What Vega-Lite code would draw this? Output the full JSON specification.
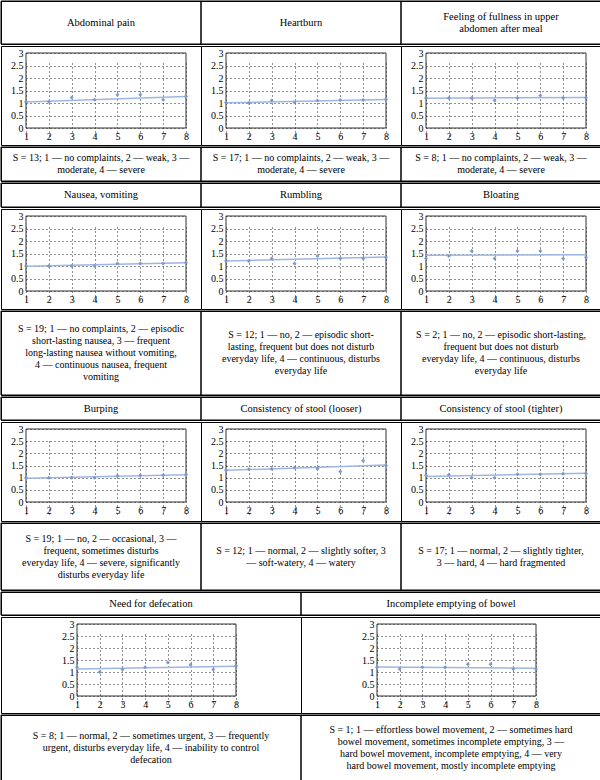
{
  "$schema": "https://vega.github.io/schema/vega-lite/v6.json",
  "padding": 0,
  "spacing": 0,
  "config": {
    "font": "Liberation Serif",
    "view": {"stroke": "#000", "strokeWidth": 1},
    "text": {"font": "Liberation Serif", "fontSize": 10, "color": "#000", "lineBreak": "\n", "lineHeight": 12},
    "axis": {"labelFont": "Liberation Serif", "labelFontSize": 10, "labelColor": "#000", "ticks": false, "tickSize": 0, "domain": false, "labelOverlap": false, "labelFlush": false, "tickCount": 20, "labelPadding": 3, "grid": true, "gridDash": [1, 3], "gridColor": "#222"}
  },
  "datasets": {
    "panels": [
      {"r": 1, "c": 1, "title": "Abdominal pain", "caption": "S = 13; 1 — no complaints, 2 — weak, 3 —\nmoderate, 4 — severe"},
      {"r": 1, "c": 2, "title": "Heartburn", "caption": "S = 17; 1 — no complaints, 2 — weak, 3 —\nmoderate, 4 — severe"},
      {"r": 1, "c": 3, "title": "Feeling of fullness in upper\nabdomen after meal", "caption": "S = 8; 1 — no complaints, 2 — weak, 3 —\nmoderate, 4 — severe"},
      {"r": 2, "c": 1, "title": "Nausea, vomiting", "caption": "S = 19; 1 — no complaints, 2 — episodic\nshort-lasting nausea, 3 — frequent\nlong-lasting nausea without vomiting,\n4 — continuous nausea, frequent\nvomiting"},
      {"r": 2, "c": 2, "title": "Rumbling", "caption": "S = 12; 1 — no, 2 — episodic short-\nlasting, frequent but does not disturb\neveryday life, 4 — continuous, disturbs\neveryday life"},
      {"r": 2, "c": 3, "title": "Bloating", "caption": "S = 2; 1 — no, 2 — episodic short-lasting,\nfrequent but does not disturb\neveryday life, 4 — continuous, disturbs\neveryday life"},
      {"r": 3, "c": 1, "title": "Burping", "caption": "S = 19; 1 — no, 2 — occasional, 3 —\nfrequent, sometimes disturbs\neveryday life, 4 — severe, significantly\ndisturbs everyday life"},
      {"r": 3, "c": 2, "title": "Consistency of stool (looser)", "caption": "S = 12; 1 — normal, 2 — slightly softer, 3\n— soft-watery, 4 — watery"},
      {"r": 3, "c": 3, "title": "Consistency of stool (tighter)", "caption": "S = 17; 1 — normal, 2 — slightly tighter,\n3 — hard, 4 — hard fragmented"},
      {"r": 4, "c": 1, "title": "Need for defecation", "caption": "S = 8; 1 — normal, 2 — sometimes urgent, 3 — frequently\nurgent, disturbs everyday life, 4 — inability to control\ndefecation"},
      {"r": 4, "c": 2, "title": "Incomplete emptying of bowel", "caption": "S = 1; 1 — effortless bowel movement, 2 — sometimes hard\nbowel movement, sometimes incomplete emptying, 3 —\nhard bowel movement, incomplete emptying, 4 — very\nhard bowel movement, mostly incomplete emptying"}
    ],
    "points": [
      {"r":1,"c":1,"x":1,"y":1.05,"t":1.04},{"r":1,"c":1,"x":2,"y":1.05},{"r":1,"c":1,"x":3,"y":1.22},{"r":1,"c":1,"x":4,"y":1.13},{"r":1,"c":1,"x":5,"y":1.33},{"r":1,"c":1,"x":6,"y":1.33},{"r":1,"c":1,"x":7,"y":1.13},{"r":1,"c":1,"x":8,"y":1.27,"t":1.26},
      {"r":1,"c":2,"x":1,"y":1.02,"t":1.01},{"r":1,"c":2,"x":2,"y":1.0},{"r":1,"c":2,"x":3,"y":1.1},{"r":1,"c":2,"x":4,"y":1.02},{"r":1,"c":2,"x":5,"y":1.1},{"r":1,"c":2,"x":6,"y":1.12},{"r":1,"c":2,"x":7,"y":1.12},{"r":1,"c":2,"x":8,"y":1.14,"t":1.14},
      {"r":1,"c":3,"x":1,"y":1.2,"t":1.19},{"r":1,"c":3,"x":2,"y":1.2},{"r":1,"c":3,"x":3,"y":1.2},{"r":1,"c":3,"x":4,"y":1.1},{"r":1,"c":3,"x":5,"y":1.2},{"r":1,"c":3,"x":6,"y":1.3},{"r":1,"c":3,"x":7,"y":1.2},{"r":1,"c":3,"x":8,"y":1.21,"t":1.22},
      {"r":2,"c":1,"x":1,"y":1.0,"t":0.99},{"r":2,"c":1,"x":2,"y":1.0},{"r":2,"c":1,"x":3,"y":1.0},{"r":2,"c":1,"x":4,"y":1.0},{"r":2,"c":1,"x":5,"y":1.1},{"r":2,"c":1,"x":6,"y":1.1},{"r":2,"c":1,"x":7,"y":1.1},{"r":2,"c":1,"x":8,"y":1.13,"t":1.13},
      {"r":2,"c":2,"x":1,"y":1.2,"t":1.2},{"r":2,"c":2,"x":2,"y":1.2},{"r":2,"c":2,"x":3,"y":1.3},{"r":2,"c":2,"x":4,"y":1.1},{"r":2,"c":2,"x":5,"y":1.4},{"r":2,"c":2,"x":6,"y":1.3},{"r":2,"c":2,"x":7,"y":1.3},{"r":2,"c":2,"x":8,"y":1.35,"t":1.36},
      {"r":2,"c":3,"x":1,"y":1.3,"t":1.43},{"r":2,"c":3,"x":2,"y":1.4},{"r":2,"c":3,"x":3,"y":1.6},{"r":2,"c":3,"x":4,"y":1.3},{"r":2,"c":3,"x":5,"y":1.6},{"r":2,"c":3,"x":6,"y":1.6},{"r":2,"c":3,"x":7,"y":1.3},{"r":2,"c":3,"x":8,"y":1.35,"t":1.45},
      {"r":3,"c":1,"x":1,"y":1.0,"t":0.98},{"r":3,"c":1,"x":2,"y":1.0},{"r":3,"c":1,"x":3,"y":1.0},{"r":3,"c":1,"x":4,"y":1.0},{"r":3,"c":1,"x":5,"y":1.08},{"r":3,"c":1,"x":6,"y":1.1},{"r":3,"c":1,"x":7,"y":1.1},{"r":3,"c":1,"x":8,"y":1.12,"t":1.12},
      {"r":3,"c":2,"x":1,"y":1.3,"t":1.3},{"r":3,"c":2,"x":2,"y":1.35},{"r":3,"c":2,"x":3,"y":1.37},{"r":3,"c":2,"x":4,"y":1.42},{"r":3,"c":2,"x":5,"y":1.37},{"r":3,"c":2,"x":6,"y":1.25},{"r":3,"c":2,"x":7,"y":1.7},{"r":3,"c":2,"x":8,"y":1.5,"t":1.52},
      {"r":3,"c":3,"x":1,"y":1.1,"t":1.05},{"r":3,"c":3,"x":2,"y":1.12},{"r":3,"c":3,"x":3,"y":1.0},{"r":3,"c":3,"x":4,"y":1.0},{"r":3,"c":3,"x":5,"y":1.14},{"r":3,"c":3,"x":6,"y":1.14},{"r":3,"c":3,"x":7,"y":1.16},{"r":3,"c":3,"x":8,"y":1.17,"t":1.18},
      {"r":4,"c":1,"x":1,"y":1.2,"t":1.12},{"r":4,"c":1,"x":2,"y":1.0},{"r":4,"c":1,"x":3,"y":1.1},{"r":4,"c":1,"x":4,"y":1.2},{"r":4,"c":1,"x":5,"y":1.4},{"r":4,"c":1,"x":6,"y":1.3},{"r":4,"c":1,"x":7,"y":1.1},{"r":4,"c":1,"x":8,"y":1.25,"t":1.24},
      {"r":4,"c":2,"x":1,"y":1.2,"t":1.21},{"r":4,"c":2,"x":2,"y":1.12},{"r":4,"c":2,"x":3,"y":1.2},{"r":4,"c":2,"x":4,"y":1.2},{"r":4,"c":2,"x":5,"y":1.32},{"r":4,"c":2,"x":6,"y":1.32},{"r":4,"c":2,"x":7,"y":1.12},{"r":4,"c":2,"x":8,"y":1.13,"t":1.16}
    ]
  },
  "vconcat": [
    {
      "width": 600, "height": 43,
      "data": {"name": "panels"},
      "transform": [{"filter": "datum.r == 1"}],
      "layer": [
        {"mark": {"type": "rect", "fill": "transparent", "stroke": "#000", "strokeWidth": 1},
         "encoding": {"x": {"field": "c", "type": "ordinal", "axis": null, "scale": {"paddingInner": 0, "paddingOuter": 0}}}},
        {"mark": {"type": "text", "align": "center", "baseline": "middle", "fontSize": 10.5, "dy": {"expr": "-(length(split(datum.title, '\\n')) - 1) * 6"}},
         "encoding": {"x": {"field": "c", "type": "ordinal", "axis": null}, "text": {"field": "title"}}}
      ]
    },
    {
      "spacing": 0, "bounds": "flush",
      "hconcat": [
        {"width": 200, "height": 99, "data": {"name": "points"}, "transform": [{"filter": "datum.r == 1 && datum.c == 1"}],
         "encoding": {
           "x": {"field": "x", "type": "quantitative", "title": null, "scale": {"domain": [1, 8], "range": [25, 185], "nice": false, "zero": false}, "axis": {"offset": -17, "values": [1,2,3,4,5,6,7,8], "format": "d"}},
           "y": {"field": "y", "type": "quantitative", "title": null, "scale": {"domain": [0, 3], "range": [82, 7], "nice": false, "zero": false}, "axis": {"offset": -25, "values": [0,0.5,1,1.5,2,2.5,3], "format": "~g"}}},
         "layer": [
           {"transform": [{"filter": "datum.x == 1"}], "mark": {"type": "rect", "fill": "transparent", "stroke": "#333", "strokeWidth": 1}, "encoding": {"x": {"datum": 1}, "x2": {"datum": 8}, "y": {"datum": 0}, "y2": {"datum": 3}}},
           {"transform": [{"filter": "isValid(datum.t)"}], "mark": {"type": "line", "color": "#9db6e3", "strokeWidth": 1.5}, "encoding": {"y": {"field": "t", "type": "quantitative", "title": null}}},
           {"mark": {"type": "point", "shape": "diamond", "filled": true, "size": 16, "color": "#7b98cf", "opacity": 1}}
         ]},
        {"width": 200, "height": 99, "data": {"name": "points"}, "transform": [{"filter": "datum.r == 1 && datum.c == 2"}],
         "encoding": {
           "x": {"field": "x", "type": "quantitative", "title": null, "scale": {"domain": [1, 8], "range": [25, 185], "nice": false, "zero": false}, "axis": {"offset": -17, "values": [1,2,3,4,5,6,7,8], "format": "d"}},
           "y": {"field": "y", "type": "quantitative", "title": null, "scale": {"domain": [0, 3], "range": [82, 7], "nice": false, "zero": false}, "axis": {"offset": -25, "values": [0,0.5,1,1.5,2,2.5,3], "format": "~g"}}},
         "layer": [
           {"transform": [{"filter": "datum.x == 1"}], "mark": {"type": "rect", "fill": "transparent", "stroke": "#333", "strokeWidth": 1}, "encoding": {"x": {"datum": 1}, "x2": {"datum": 8}, "y": {"datum": 0}, "y2": {"datum": 3}}},
           {"transform": [{"filter": "isValid(datum.t)"}], "mark": {"type": "line", "color": "#9db6e3", "strokeWidth": 1.5}, "encoding": {"y": {"field": "t", "type": "quantitative", "title": null}}},
           {"mark": {"type": "point", "shape": "diamond", "filled": true, "size": 16, "color": "#7b98cf", "opacity": 1}}
         ]},
        {"width": 200, "height": 99, "data": {"name": "points"}, "transform": [{"filter": "datum.r == 1 && datum.c == 3"}],
         "encoding": {
           "x": {"field": "x", "type": "quantitative", "title": null, "scale": {"domain": [1, 8], "range": [25, 185], "nice": false, "zero": false}, "axis": {"offset": -17, "values": [1,2,3,4,5,6,7,8], "format": "d"}},
           "y": {"field": "y", "type": "quantitative", "title": null, "scale": {"domain": [0, 3], "range": [82, 7], "nice": false, "zero": false}, "axis": {"offset": -25, "values": [0,0.5,1,1.5,2,2.5,3], "format": "~g"}}},
         "layer": [
           {"transform": [{"filter": "datum.x == 1"}], "mark": {"type": "rect", "fill": "transparent", "stroke": "#333", "strokeWidth": 1}, "encoding": {"x": {"datum": 1}, "x2": {"datum": 8}, "y": {"datum": 0}, "y2": {"datum": 3}}},
           {"transform": [{"filter": "isValid(datum.t)"}], "mark": {"type": "line", "color": "#9db6e3", "strokeWidth": 1.5}, "encoding": {"y": {"field": "t", "type": "quantitative", "title": null}}},
           {"mark": {"type": "point", "shape": "diamond", "filled": true, "size": 16, "color": "#7b98cf", "opacity": 1}}
         ]}
      ]
    },
    {
      "width": 600, "height": 34,
      "data": {"name": "panels"},
      "transform": [{"filter": "datum.r == 1"}],
      "layer": [
        {"mark": {"type": "rect", "fill": "transparent", "stroke": "#000", "strokeWidth": 1},
         "encoding": {"x": {"field": "c", "type": "ordinal", "axis": null, "scale": {"paddingInner": 0, "paddingOuter": 0}}}},
        {"mark": {"type": "text", "align": "center", "baseline": "middle", "dy": {"expr": "-(length(split(datum.caption, '\\n')) - 1) * 6"}},
         "encoding": {"x": {"field": "c", "type": "ordinal", "axis": null}, "text": {"field": "caption"}}}
      ]
    },
    {
      "width": 600, "height": 24,
      "data": {"name": "panels"},
      "transform": [{"filter": "datum.r == 2"}],
      "layer": [
        {"mark": {"type": "rect", "fill": "transparent", "stroke": "#000", "strokeWidth": 1},
         "encoding": {"x": {"field": "c", "type": "ordinal", "axis": null, "scale": {"paddingInner": 0, "paddingOuter": 0}}}},
        {"mark": {"type": "text", "align": "center", "baseline": "middle", "fontSize": 10.5},
         "encoding": {"x": {"field": "c", "type": "ordinal", "axis": null}, "text": {"field": "title"}}}
      ]
    },
    {
      "spacing": 0, "bounds": "flush",
      "hconcat": [
        {"width": 200, "height": 100, "data": {"name": "points"}, "transform": [{"filter": "datum.r == 2 && datum.c == 1"}],
         "encoding": {
           "x": {"field": "x", "type": "quantitative", "title": null, "scale": {"domain": [1, 8], "range": [25, 185], "nice": false, "zero": false}, "axis": {"offset": -18, "values": [1,2,3,4,5,6,7,8], "format": "d"}},
           "y": {"field": "y", "type": "quantitative", "title": null, "scale": {"domain": [0, 3], "range": [82, 7], "nice": false, "zero": false}, "axis": {"offset": -25, "values": [0,0.5,1,1.5,2,2.5,3], "format": "~g"}}},
         "layer": [
           {"transform": [{"filter": "datum.x == 1"}], "mark": {"type": "rect", "fill": "transparent", "stroke": "#333", "strokeWidth": 1}, "encoding": {"x": {"datum": 1}, "x2": {"datum": 8}, "y": {"datum": 0}, "y2": {"datum": 3}}},
           {"transform": [{"filter": "isValid(datum.t)"}], "mark": {"type": "line", "color": "#9db6e3", "strokeWidth": 1.5}, "encoding": {"y": {"field": "t", "type": "quantitative", "title": null}}},
           {"mark": {"type": "point", "shape": "diamond", "filled": true, "size": 16, "color": "#7b98cf", "opacity": 1}}
         ]},
        {"width": 200, "height": 100, "data": {"name": "points"}, "transform": [{"filter": "datum.r == 2 && datum.c == 2"}],
         "encoding": {
           "x": {"field": "x", "type": "quantitative", "title": null, "scale": {"domain": [1, 8], "range": [25, 185], "nice": false, "zero": false}, "axis": {"offset": -18, "values": [1,2,3,4,5,6,7,8], "format": "d"}},
           "y": {"field": "y", "type": "quantitative", "title": null, "scale": {"domain": [0, 3], "range": [82, 7], "nice": false, "zero": false}, "axis": {"offset": -25, "values": [0,0.5,1,1.5,2,2.5,3], "format": "~g"}}},
         "layer": [
           {"transform": [{"filter": "datum.x == 1"}], "mark": {"type": "rect", "fill": "transparent", "stroke": "#333", "strokeWidth": 1}, "encoding": {"x": {"datum": 1}, "x2": {"datum": 8}, "y": {"datum": 0}, "y2": {"datum": 3}}},
           {"transform": [{"filter": "isValid(datum.t)"}], "mark": {"type": "line", "color": "#9db6e3", "strokeWidth": 1.5}, "encoding": {"y": {"field": "t", "type": "quantitative", "title": null}}},
           {"mark": {"type": "point", "shape": "diamond", "filled": true, "size": 16, "color": "#7b98cf", "opacity": 1}}
         ]},
        {"width": 200, "height": 100, "data": {"name": "points"}, "transform": [{"filter": "datum.r == 2 && datum.c == 3"}],
         "encoding": {
           "x": {"field": "x", "type": "quantitative", "title": null, "scale": {"domain": [1, 8], "range": [25, 185], "nice": false, "zero": false}, "axis": {"offset": -18, "values": [1,2,3,4,5,6,7,8], "format": "d"}},
           "y": {"field": "y", "type": "quantitative", "title": null, "scale": {"domain": [0, 3], "range": [82, 7], "nice": false, "zero": false}, "axis": {"offset": -25, "values": [0,0.5,1,1.5,2,2.5,3], "format": "~g"}}},
         "layer": [
           {"transform": [{"filter": "datum.x == 1"}], "mark": {"type": "rect", "fill": "transparent", "stroke": "#333", "strokeWidth": 1}, "encoding": {"x": {"datum": 1}, "x2": {"datum": 8}, "y": {"datum": 0}, "y2": {"datum": 3}}},
           {"transform": [{"filter": "isValid(datum.t)"}], "mark": {"type": "line", "color": "#9db6e3", "strokeWidth": 1.5}, "encoding": {"y": {"field": "t", "type": "quantitative", "title": null}}},
           {"mark": {"type": "point", "shape": "diamond", "filled": true, "size": 16, "color": "#7b98cf", "opacity": 1}}
         ]}
      ]
    },
    {
      "width": 600, "height": 84,
      "data": {"name": "panels"},
      "transform": [{"filter": "datum.r == 2"}],
      "layer": [
        {"mark": {"type": "rect", "fill": "transparent", "stroke": "#000", "strokeWidth": 1},
         "encoding": {"x": {"field": "c", "type": "ordinal", "axis": null, "scale": {"paddingInner": 0, "paddingOuter": 0}}}},
        {"mark": {"type": "text", "align": "center", "baseline": "middle", "dy": {"expr": "-(length(split(datum.caption, '\\n')) - 1) * 6"}},
         "encoding": {"x": {"field": "c", "type": "ordinal", "axis": null}, "text": {"field": "caption"}}}
      ]
    },
    {
      "width": 600, "height": 23,
      "data": {"name": "panels"},
      "transform": [{"filter": "datum.r == 3"}],
      "layer": [
        {"mark": {"type": "rect", "fill": "transparent", "stroke": "#000", "strokeWidth": 1},
         "encoding": {"x": {"field": "c", "type": "ordinal", "axis": null, "scale": {"paddingInner": 0, "paddingOuter": 0}}}},
        {"mark": {"type": "text", "align": "center", "baseline": "middle", "fontSize": 10.5},
         "encoding": {"x": {"field": "c", "type": "ordinal", "axis": null}, "text": {"field": "title"}}}
      ]
    },
    {
      "spacing": 0, "bounds": "flush",
      "hconcat": [
        {"width": 200, "height": 99, "data": {"name": "points"}, "transform": [{"filter": "datum.r == 3 && datum.c == 1"}],
         "encoding": {
           "x": {"field": "x", "type": "quantitative", "title": null, "scale": {"domain": [1, 8], "range": [25, 185], "nice": false, "zero": false}, "axis": {"offset": -19, "values": [1,2,3,4,5,6,7,8], "format": "d"}},
           "y": {"field": "y", "type": "quantitative", "title": null, "scale": {"domain": [0, 3], "range": [80, 7], "nice": false, "zero": false}, "axis": {"offset": -25, "values": [0,0.5,1,1.5,2,2.5,3], "format": "~g"}}},
         "layer": [
           {"transform": [{"filter": "datum.x == 1"}], "mark": {"type": "rect", "fill": "transparent", "stroke": "#333", "strokeWidth": 1}, "encoding": {"x": {"datum": 1}, "x2": {"datum": 8}, "y": {"datum": 0}, "y2": {"datum": 3}}},
           {"transform": [{"filter": "isValid(datum.t)"}], "mark": {"type": "line", "color": "#9db6e3", "strokeWidth": 1.5}, "encoding": {"y": {"field": "t", "type": "quantitative", "title": null}}},
           {"mark": {"type": "point", "shape": "diamond", "filled": true, "size": 16, "color": "#7b98cf", "opacity": 1}}
         ]},
        {"width": 200, "height": 99, "data": {"name": "points"}, "transform": [{"filter": "datum.r == 3 && datum.c == 2"}],
         "encoding": {
           "x": {"field": "x", "type": "quantitative", "title": null, "scale": {"domain": [1, 8], "range": [25, 185], "nice": false, "zero": false}, "axis": {"offset": -19, "values": [1,2,3,4,5,6,7,8], "format": "d"}},
           "y": {"field": "y", "type": "quantitative", "title": null, "scale": {"domain": [0, 3], "range": [80, 7], "nice": false, "zero": false}, "axis": {"offset": -25, "values": [0,0.5,1,1.5,2,2.5,3], "format": "~g"}}},
         "layer": [
           {"transform": [{"filter": "datum.x == 1"}], "mark": {"type": "rect", "fill": "transparent", "stroke": "#333", "strokeWidth": 1}, "encoding": {"x": {"datum": 1}, "x2": {"datum": 8}, "y": {"datum": 0}, "y2": {"datum": 3}}},
           {"transform": [{"filter": "isValid(datum.t)"}], "mark": {"type": "line", "color": "#9db6e3", "strokeWidth": 1.5}, "encoding": {"y": {"field": "t", "type": "quantitative", "title": null}}},
           {"mark": {"type": "point", "shape": "diamond", "filled": true, "size": 16, "color": "#7b98cf", "opacity": 1}}
         ]},
        {"width": 200, "height": 99, "data": {"name": "points"}, "transform": [{"filter": "datum.r == 3 && datum.c == 3"}],
         "encoding": {
           "x": {"field": "x", "type": "quantitative", "title": null, "scale": {"domain": [1, 8], "range": [25, 185], "nice": false, "zero": false}, "axis": {"offset": -19, "values": [1,2,3,4,5,6,7,8], "format": "d"}},
           "y": {"field": "y", "type": "quantitative", "title": null, "scale": {"domain": [0, 3], "range": [80, 7], "nice": false, "zero": false}, "axis": {"offset": -25, "values": [0,0.5,1,1.5,2,2.5,3], "format": "~g"}}},
         "layer": [
           {"transform": [{"filter": "datum.x == 1"}], "mark": {"type": "rect", "fill": "transparent", "stroke": "#333", "strokeWidth": 1}, "encoding": {"x": {"datum": 1}, "x2": {"datum": 8}, "y": {"datum": 0}, "y2": {"datum": 3}}},
           {"transform": [{"filter": "isValid(datum.t)"}], "mark": {"type": "line", "color": "#9db6e3", "strokeWidth": 1.5}, "encoding": {"y": {"field": "t", "type": "quantitative", "title": null}}},
           {"mark": {"type": "point", "shape": "diamond", "filled": true, "size": 16, "color": "#7b98cf", "opacity": 1}}
         ]}
      ]
    },
    {
      "width": 600, "height": 67,
      "data": {"name": "panels"},
      "transform": [{"filter": "datum.r == 3"}],
      "layer": [
        {"mark": {"type": "rect", "fill": "transparent", "stroke": "#000", "strokeWidth": 1},
         "encoding": {"x": {"field": "c", "type": "ordinal", "axis": null, "scale": {"paddingInner": 0, "paddingOuter": 0}}}},
        {"mark": {"type": "text", "align": "center", "baseline": "middle", "dy": {"expr": "-(length(split(datum.caption, '\\n')) - 1) * 6"}},
         "encoding": {"x": {"field": "c", "type": "ordinal", "axis": null}, "text": {"field": "caption"}}}
      ]
    },
    {
      "width": 600, "height": 23,
      "data": {"name": "panels"},
      "transform": [{"filter": "datum.r == 4"}],
      "layer": [
        {"mark": {"type": "rect", "fill": "transparent", "stroke": "#000", "strokeWidth": 1},
         "encoding": {"x": {"field": "c", "type": "ordinal", "axis": null, "scale": {"paddingInner": 0, "paddingOuter": 0}}}},
        {"mark": {"type": "text", "align": "center", "baseline": "middle", "fontSize": 10.5},
         "encoding": {"x": {"field": "c", "type": "ordinal", "axis": null}, "text": {"field": "title"}}}
      ]
    },
    {
      "spacing": 0, "bounds": "flush",
      "hconcat": [
        {"width": 300, "height": 96, "data": {"name": "points"}, "transform": [{"filter": "datum.r == 4 && datum.c == 1"}],
         "encoding": {
           "x": {"field": "x", "type": "quantitative", "title": null, "scale": {"domain": [1, 8], "range": [76, 235], "nice": false, "zero": false}, "axis": {"offset": -17, "values": [1,2,3,4,5,6,7,8], "format": "d"}},
           "y": {"field": "y", "type": "quantitative", "title": null, "scale": {"domain": [0, 3], "range": [79, 7], "nice": false, "zero": false}, "axis": {"offset": -76, "values": [0,0.5,1,1.5,2,2.5,3], "format": "~g"}}},
         "layer": [
           {"transform": [{"filter": "datum.x == 1"}], "mark": {"type": "rect", "fill": "transparent", "stroke": "#333", "strokeWidth": 1}, "encoding": {"x": {"datum": 1}, "x2": {"datum": 8}, "y": {"datum": 0}, "y2": {"datum": 3}}},
           {"transform": [{"filter": "isValid(datum.t)"}], "mark": {"type": "line", "color": "#9db6e3", "strokeWidth": 1.5}, "encoding": {"y": {"field": "t", "type": "quantitative", "title": null}}},
           {"mark": {"type": "point", "shape": "diamond", "filled": true, "size": 16, "color": "#7b98cf", "opacity": 1}}
         ]},
        {"width": 300, "height": 96, "data": {"name": "points"}, "transform": [{"filter": "datum.r == 4 && datum.c == 2"}],
         "encoding": {
           "x": {"field": "x", "type": "quantitative", "title": null, "scale": {"domain": [1, 8], "range": [76, 235], "nice": false, "zero": false}, "axis": {"offset": -17, "values": [1,2,3,4,5,6,7,8], "format": "d"}},
           "y": {"field": "y", "type": "quantitative", "title": null, "scale": {"domain": [0, 3], "range": [79, 7], "nice": false, "zero": false}, "axis": {"offset": -76, "values": [0,0.5,1,1.5,2,2.5,3], "format": "~g"}}},
         "layer": [
           {"transform": [{"filter": "datum.x == 1"}], "mark": {"type": "rect", "fill": "transparent", "stroke": "#333", "strokeWidth": 1}, "encoding": {"x": {"datum": 1}, "x2": {"datum": 8}, "y": {"datum": 0}, "y2": {"datum": 3}}},
           {"transform": [{"filter": "isValid(datum.t)"}], "mark": {"type": "line", "color": "#9db6e3", "strokeWidth": 1.5}, "encoding": {"y": {"field": "t", "type": "quantitative", "title": null}}},
           {"mark": {"type": "point", "shape": "diamond", "filled": true, "size": 16, "color": "#7b98cf", "opacity": 1}}
         ]}
      ]
    },
    {
      "width": 600, "height": 66,
      "data": {"name": "panels"},
      "transform": [{"filter": "datum.r == 4"}],
      "layer": [
        {"mark": {"type": "rect", "fill": "transparent", "stroke": "#000", "strokeWidth": 1},
         "encoding": {"x": {"field": "c", "type": "ordinal", "axis": null, "scale": {"paddingInner": 0, "paddingOuter": 0}}}},
        {"mark": {"type": "text", "align": "center", "baseline": "middle", "dy": {"expr": "-(length(split(datum.caption, '\\n')) - 1) * 6"}},
         "encoding": {"x": {"field": "c", "type": "ordinal", "axis": null}, "text": {"field": "caption"}}}
      ]
    }
  ]
}
